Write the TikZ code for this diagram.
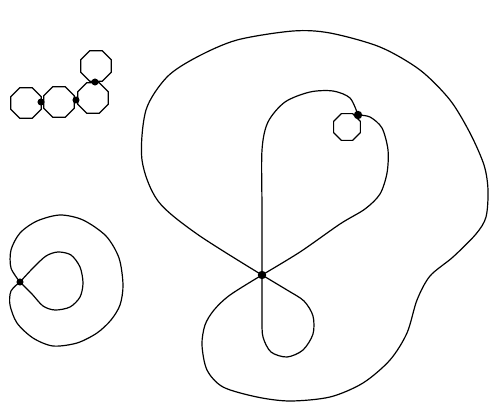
\documentclass[tikz,border=0pt]{standalone}
\usetikzlibrary{shapes.geometric}
\begin{document}
\begin{tikzpicture}[x=0.05cm,y=-0.05cm,line width=1.7pt,line join=round,
  ring/.style={draw,regular polygon,regular polygon sides=8,minimum size=1.65cm,inner sep=0pt}]
\useasboundingbox (0,0) rectangle (490,409);
% chain of rings, top left
\node[ring] (ring1) at (26,103) {};
\node[ring] (ring2) at (59,102) {};
\node[ring] (ring3) at (93,98) {};
\node[ring] (ring4) at (96,66) {};
\coordinate (r12) at (41,102); \coordinate (r23) at (76,100); \coordinate (r34) at (95,82);
\foreach \p in {r12,r23,r34} \fill (\p) circle (5pt);
% bottom left
\coordinate (w) at (20,282);
\draw plot[smooth] coordinates {(w) (11,268) (11,250) (20,233) (37,221) (60,215) (83,220)
  (106,236) (119,258) (123,285) (120,305) (111,320) (97,333) (77,343) (53,346) (33,338)
  (17,323) (10,305) (11,291) (w)};
\draw plot[smooth] coordinates {(w) (33,268) (46,256) (58,252) (71,255) (80,267) (83,283)
  (80,297) (70,307) (55,310) (43,306) (32,294) (w)};
\fill (w) circle (5pt);
% big curve
\coordinate (c) at (262,275);
\coordinate (t) at (358,115);
\draw plot[smooth] coordinates {(c) (197,234) (158,201) (142,160) (146,110) (167,77) (197,57)
  (237,40) (293,31) (330,33) (380,47) (420,70) (450,100) (470,133) (484,165) (488,190)
  (486,217) (476,234) (453,257) (430,276) (417,300) (407,333) (390,360) (363,383) (330,397)
  (290,401) (257,397) (223,387) (207,370) (202,345) (205,325) (214,310) (230,295) (c)};
\draw plot[smooth] coordinates {(c) (287,290) (304,301) (313,316) (313,334) (303,350)
  (287,357) (271,352) (263,337) (262,318) (c) (262,210) (262,150) (268,122) (285,102)
  (310,92) (333,91) (350,98) (t)};
\draw plot[smooth] coordinates {(t) (370,117) (382,128) (388,150) (387,173) (380,194)
  (365,209) (340,224) (300,252) (c)};
\node[ring,minimum size=1.45cm] (loop) at (347,127) {};
\foreach \p in {c,t} \fill (\p) circle (6pt);
\end{tikzpicture}
\end{document}
